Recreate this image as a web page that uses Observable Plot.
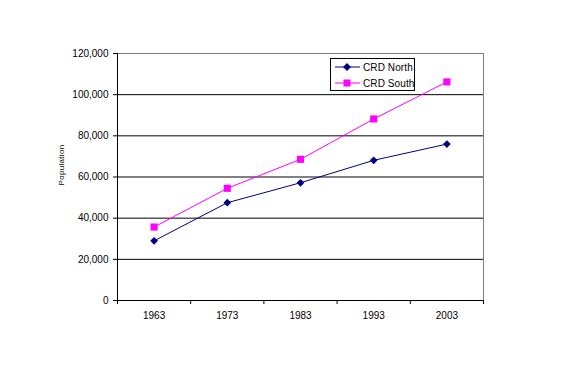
<!DOCTYPE html>
<html>
<head>
<meta charset="utf-8">
<script src="https://cdn.jsdelivr.net/npm/d3@7"></script>
<script src="https://cdn.jsdelivr.net/npm/@observablehq/plot@0.6"></script>
<style>
  html, body { margin: 0; padding: 0; background: #fff; }
  #wrap { position: relative; width: 576px; height: 370px; font-family: "Liberation Sans", Arial, sans-serif; }
  #legend { position: absolute; left: 330px; top: 58px; width: 85px; height: 33px; border: 1px solid #000; background: #fff; box-sizing: border-box; font-size: 10px; letter-spacing: 0.1px; white-space: nowrap; }
  #legend .row { position: absolute; left: 0; height: 12px; display: flex; align-items: center; white-space: nowrap; }
  #legend svg { display: block; flex: none; }
  #legend span { margin-left: 2px; white-space: nowrap; }
</style>
</head>
<body>
<div id="wrap"></div>
<script>
const years = [1963, 1973, 1983, 1993, 2003];
const north = [29000, 47500, 57200, 68100, 76000];
const south = [35700, 54500, 68600, 88200, 106200];
const seriesNames = ["CRD North", "CRD South"];
const seriesColors = ["#000080", "#FF00FF"];
const yTicks = [0, 20000, 40000, 60000, 80000, 100000, 120000];
const xBoundaries = [1958, 1968, 1978, 1988, 1998, 2008];

const data = [
  ...years.map((y, i) => ({year: y, value: north[i], series: seriesNames[0]})),
  ...years.map((y, i) => ({year: y, value: south[i], series: seriesNames[1]}))
];
const northData = data.filter(d => d.series === seriesNames[0]);
const southData = data.filter(d => d.series === seriesNames[1]);

const chart = Plot.plot({
  width: 576,
  height: 370,
  marginLeft: 117,
  marginRight: 93,
  marginTop: 53,
  marginBottom: 70,
  style: {fontFamily: "'Liberation Sans', Arial, sans-serif", fontSize: "10px", background: "#fff", color: "#000"},
  x: {domain: [1958, 2008], axis: null},
  y: {domain: [0, 120000], axis: null},
  marks: [
    Plot.ruleY(yTicks.filter(v => v > 0 && v < 120000), {stroke: "#000", strokeWidth: 1}),
    Plot.ruleY([120000], {stroke: "#808080", strokeWidth: 1}),
    Plot.ruleX([2008], {stroke: "#808080", strokeWidth: 1}),
    Plot.axisY({ticks: yTicks, tickSize: 4, tickPadding: 5, tickFormat: d => d3.format(",")(d), label: null, stroke: "#000", fill: "#000", fontSize: 10}),
    Plot.axisX({ticks: xBoundaries, tickSize: 4, tickFormat: () => "", label: null, stroke: "#000"}),
    Plot.axisX({ticks: years, tickSize: 0, tickPadding: 11, tickFormat: d => String(d), label: null, fill: "#000", fontSize: 10}),
    Plot.ruleY([0], {stroke: "#000", strokeWidth: 1}),
    Plot.ruleX([1958], {stroke: "#000", strokeWidth: 1}),
    Plot.line(northData, {x: "year", y: "value", stroke: seriesColors[0], strokeWidth: 1}),
    Plot.line(southData, {x: "year", y: "value", stroke: seriesColors[1], strokeWidth: 1}),
    Plot.dot(northData, {x: "year", y: "value", symbol: "diamond2", r: 3.5, fill: seriesColors[0], stroke: "none"}),
    Plot.dot(southData, {x: "year", y: "value", symbol: "square", r: 4, fill: seriesColors[1], stroke: "none"})
  ]
});

const wrap = document.getElementById("wrap");
wrap.appendChild(chart);

// y-axis title
const title = document.createElement("div");
title.textContent = "Population";
title.style.cssText = "position:absolute;left:61px;top:165px;transform:translate(-50%,-50%) rotate(-90deg);font-size:8px;letter-spacing:0.3px;white-space:nowrap;";
wrap.appendChild(title);

// legend
const legend = document.createElement("div");
legend.id = "legend";
seriesNames.forEach((name, i) => {
  const row = document.createElement("div");
  row.className = "row";
  row.style.top = (i === 0 ? 2 : 18) + "px";
  const marker = i === 0
    ? `<polygon points="16,2 20,6 16,10 12,6" fill="${seriesColors[i]}"/>`
    : `<rect x="12.5" y="2.5" width="7" height="7" fill="${seriesColors[i]}"/>`;
  row.innerHTML = `<svg width="30" height="12"><line x1="4" x2="29" y1="6" y2="6" stroke="${seriesColors[i]}" stroke-width="1"/>${marker}</svg><span>${name}</span>`;
  legend.appendChild(row);
});
wrap.appendChild(legend);
</script>
</body>
</html>
